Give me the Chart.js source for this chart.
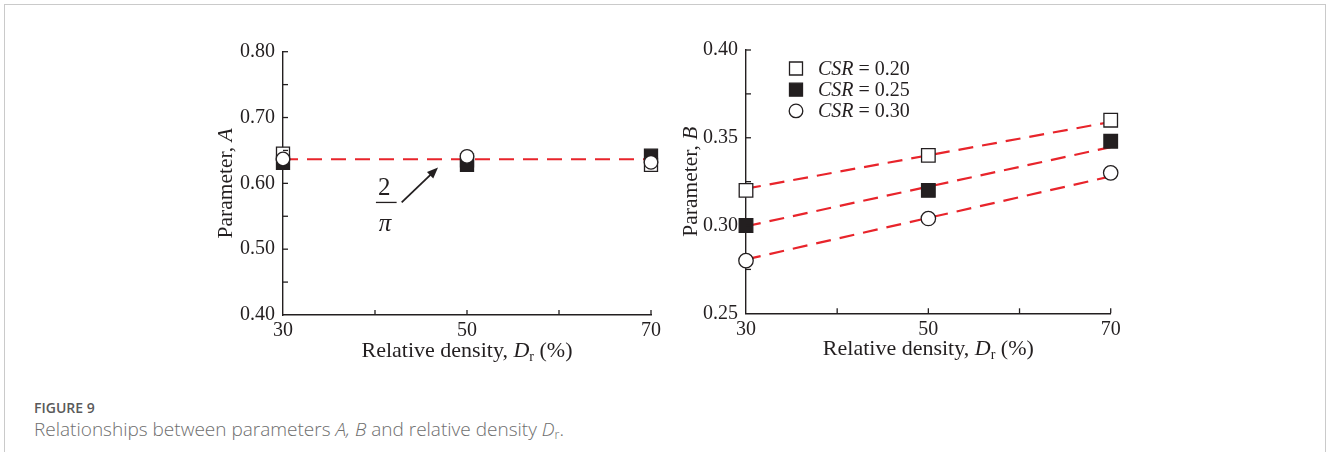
<!DOCTYPE html>
<html>
<head>
<meta charset="utf-8">
<script src="https://cdn.jsdelivr.net/npm/chart.js"></script>
<style>
    body { margin: 0; background: #fff; width: 1328px; height: 452px; overflow: hidden; position: relative; }
    .frame { position: absolute; left: 4px; top: 4px; width: 1322px; height: 460px; border: 1.5px solid #cacaca; border-bottom: none; box-sizing: border-box; }
    .cv { position: absolute; top: 30px; }
    .fig-label { position: absolute; left: 34px; top: 398px; font-family: "Open Sans", sans-serif; font-size: 14px; font-weight: 600; color: #5a5a5a; }
    .caption { position: absolute; left: 34px; top: 416px; font-family: "Open Sans", sans-serif; font-size: 19px; font-weight: 300; color: #6e6e6e; }
    .caption sub { font-size: 12.5px; vertical-align: -3px; line-height: 0; }
</style>
</head>
<body>
<div class="frame"></div>
<canvas id="chartA" class="cv" width="480" height="340" style="left:200px"></canvas>
<canvas id="chartB" class="cv" width="480" height="340" style="left:670px"></canvas>
<div class="fig-label">FIGURE 9</div>
<div class="caption">Relationships between parameters <i>A, B</i> and relative density <i>D</i><sub>r</sub>.</div>

<script>
// relative density (%) for every series
const densities = [30, 50, 70];
const fitX = [30, 70];

// parameter A (left panel)
const aCsr20 = [0.645, 0.635, 0.628];
const aCsr25 = [0.631, 0.628, 0.642];
const aCsr30 = [0.637, 0.641, 0.632];
const aFit = [0.6366, 0.6366];   // 2/pi

// parameter B (right panel)
const bCsr20 = [0.320, 0.340, 0.360];
const bCsr25 = [0.300, 0.320, 0.348];
const bCsr30 = [0.280, 0.304, 0.330];
const bFit20 = [0.321, 0.359];
const bFit25 = [0.2996, 0.3447];
const bFit30 = [0.2807, 0.328];

const legendLabels = ['0.20', '0.25', '0.30'];

const SERIF = '"Liberation Serif", "Times New Roman", serif';
const RED = '#e8242b';
const INK = '#231f20';

function pts(xs, ys) { return xs.map((x, i) => ({ x: x, y: ys[i] })); }

function markerSet(data, style, filled, order, r) {
    return {
        data: data, showLine: false, order: order, clip: false,
        pointStyle: style, pointRadius: r, pointHoverRadius: r,
        pointBackgroundColor: filled ? INK : '#ffffff',
        pointBorderColor: INK, pointBorderWidth: 1.3
    };
}
function fitSet(data) {
    return {
        data: data, showLine: true, order: 10, pointRadius: 0, clip: false,
        borderColor: RED, borderWidth: 2.2, borderDash: [15, 9], fill: false
    };
}

// draws text made of runs with different fonts (italic, subscript)
function drawRuns(ctx, runs, x, y) {
    let total = 0;
    runs.forEach(r => { ctx.font = r.font; total += ctx.measureText(r.text).width; });
    let cx = x - total / 2;
    ctx.textAlign = 'left';
    ctx.textBaseline = 'alphabetic';
    runs.forEach(r => {
        ctx.font = r.font;
        ctx.fillText(r.text, cx, y + (r.dy || 0));
        cx += ctx.measureText(r.text).width;
    });
}

const xTitleRuns = [
    { text: 'Relative density, ', font: '22px ' + SERIF },
    { text: 'D', font: 'italic 22px ' + SERIF },
    { text: 'r', font: '14px ' + SERIF, dy: 4 },
    { text: ' (%)', font: '22px ' + SERIF }
];

const axisDecor = {
    id: 'axisDecor',
    afterDraw(chart, args, opts) {
        const ctx = chart.ctx, a = chart.chartArea;
        const xs = chart.scales.x, ys = chart.scales.y;
        ctx.save();
        ctx.strokeStyle = INK;
        ctx.lineWidth = 1.3;
        // inner tick marks
        xs.ticks.forEach(t => {
            const px = xs.getPixelForValue(t.value);
            if (Math.abs(px - a.left) < 1) return;
            ctx.beginPath(); ctx.moveTo(px, a.bottom); ctx.lineTo(px, a.bottom - 5); ctx.stroke();
        });
        ys.ticks.forEach(t => {
            const py = ys.getPixelForValue(t.value);
            if (Math.abs(py - a.bottom) < 1) return;
            ctx.beginPath(); ctx.moveTo(a.left, py); ctx.lineTo(a.left + 5, py); ctx.stroke();
        });
        ctx.fillStyle = INK;
        // x title
        drawRuns(ctx, xTitleRuns, (a.left + a.right) / 2, a.bottom + 42);
        // y title (rotated)
        ctx.translate(a.left - opts.yTitleOffset, (a.top + a.bottom) / 2);
        ctx.rotate(-Math.PI / 2);
        drawRuns(ctx, [
            { text: 'Parameter, ', font: '21.5px ' + SERIF },
            { text: opts.letter, font: 'italic 21.5px ' + SERIF }
        ], 0, 7);
        ctx.restore();
    }
};

// 2/pi label with arrow, placed in data coordinates
const piNote = { num: [41.0, 0.582], bar: [40.1, 42.35, 0.571], den: [41.1, 0.528], tail: [42.9, 0.571], tip: [46.85, 0.624] };
const piAnnot = {
    id: 'piAnnot',
    afterDraw(chart) {
        const ctx = chart.ctx, xs = chart.scales.x, ys = chart.scales.y;
        const X = v => xs.getPixelForValue(v), Y = v => ys.getPixelForValue(v);
        ctx.save();
        ctx.fillStyle = INK; ctx.strokeStyle = INK;
        ctx.textAlign = 'center'; ctx.textBaseline = 'alphabetic';
        ctx.font = '25px ' + SERIF;
        ctx.fillText('2', X(piNote.num[0]), Y(piNote.num[1]));
        ctx.font = 'italic 25px ' + SERIF;
        ctx.fillText('\u03c0', X(piNote.den[0]), Y(piNote.den[1]));
        ctx.lineWidth = 1.3;
        ctx.beginPath();
        ctx.moveTo(X(piNote.bar[0]), Y(piNote.bar[2])); ctx.lineTo(X(piNote.bar[1]), Y(piNote.bar[2]));
        ctx.stroke();
        const x0 = X(piNote.tail[0]), y0 = Y(piNote.tail[1]), x1 = X(piNote.tip[0]), y1 = Y(piNote.tip[1]);
        const ang = Math.atan2(y1 - y0, x1 - x0);
        ctx.lineWidth = 1.8;
        ctx.beginPath(); ctx.moveTo(x0, y0);
        ctx.lineTo(x1 - 8 * Math.cos(ang), y1 - 8 * Math.sin(ang)); ctx.stroke();
        ctx.beginPath();
        ctx.moveTo(x1, y1);
        ctx.lineTo(x1 - 11 * Math.cos(ang) + 4.5 * Math.sin(ang), y1 - 11 * Math.sin(ang) - 4.5 * Math.cos(ang));
        ctx.lineTo(x1 - 11 * Math.cos(ang) - 4.5 * Math.sin(ang), y1 - 11 * Math.sin(ang) + 4.5 * Math.cos(ang));
        ctx.closePath(); ctx.fill();
        ctx.restore();
    }
};

// legend of the right panel
const csrLegend = {
    id: 'csrLegend',
    afterDraw(chart) {
        const ctx = chart.ctx, a = chart.chartArea;
        const mx = a.left + 50, tx = a.left + 72;
        ctx.save();
        legendLabels.forEach((lab, i) => {
            const y = a.top + 18.5 + i * 21.2;
            ctx.lineWidth = 1.3; ctx.strokeStyle = INK; ctx.fillStyle = INK;
            ctx.beginPath();
            if (i === 2) ctx.arc(mx, y, 6.8, 0, Math.PI * 2);
            else ctx.rect(mx - 6.5, y - 6.5, 13, 13);
            if (i === 1) ctx.fill();
            else { ctx.fillStyle = '#fff'; ctx.fill(); }
            ctx.stroke();
            ctx.fillStyle = INK;
            ctx.textAlign = 'left'; ctx.textBaseline = 'middle';
            ctx.font = 'italic 20px ' + SERIF;
            ctx.fillText('CSR', tx, y + 1);
            const w = ctx.measureText('CSR').width;
            ctx.font = '20px ' + SERIF;
            ctx.fillText(' = ' + lab, tx + w, y + 1);
        });
        ctx.restore();
    }
};

function scalesFor(min, max, step, labelEvery, yWidth, xHeight, xPad) {
    const tickFont = { family: SERIF, size: 20 };
    const k = 1 / labelEvery;
    return {
        x: {
            type: 'linear', min: 30, max: 70,
            grid: { display: false, drawTicks: false },
            border: { display: true, color: INK, width: 1.4 },
            ticks: {
                stepSize: 10, color: INK, font: tickFont, padding: xPad, maxRotation: 0,
                callback: v => (v % 20 === 10 ? String(v) : '')
            },
            afterFit: s => { s.height = xHeight; }
        },
        y: {
            min: min, max: max,
            grid: { display: false, drawTicks: false },
            border: { display: true, color: INK, width: 1.4 },
            ticks: {
                stepSize: step, color: INK, font: tickFont, padding: 8,
                callback: v => (Math.abs(v * k - Math.round(v * k)) < 1e-6 ? v.toFixed(2) : '')
            },
            afterFit: s => { s.width = yWidth; }
        }
    };
}

const common = {
    responsive: false, animation: false, devicePixelRatio: 1,
    plugins: { legend: { display: false }, tooltip: { enabled: false } }
};

new Chart(document.getElementById('chartA'), {
    type: 'scatter',
    data: {
        datasets: [
            fitSet(pts(fitX, aFit)),
            markerSet(pts(densities, aCsr20), 'rect', false, 3, 9.2),
            markerSet(pts(densities, aCsr25), 'rect', true, 2, 9.2),
            markerSet(pts(densities, aCsr30), 'circle', false, 1, 6.8)
        ]
    },
    options: Object.assign({}, common, {
        layout: { padding: { left: 0, top: 21.7, right: 29, bottom: 0 } },
        scales: scalesFor(0.40, 0.80, 0.05, 0.1, 83, 55, 4),
        plugins: Object.assign({}, common.plugins, { axisDecor: { letter: 'A', yTitleOffset: 58 } })
    }),
    plugins: [axisDecor, piAnnot]
});

new Chart(document.getElementById('chartB'), {
    type: 'scatter',
    data: {
        datasets: [
            fitSet(pts(fitX, bFit20)),
            fitSet(pts(fitX, bFit25)),
            fitSet(pts(fitX, bFit30)),
            markerSet(pts(densities, bCsr20), 'rect', false, 3, 9.6),
            markerSet(pts(densities, bCsr25), 'rect', true, 2, 9.6),
            markerSet(pts(densities, bCsr30), 'circle', false, 1, 7.2)
        ]
    },
    options: Object.assign({}, common, {
        layout: { padding: { left: 0, top: 19.3, right: 39.3, bottom: 0 } },
        scales: scalesFor(0.25, 0.40, 0.025, 0.05, 76, 56.7, 4),
        plugins: Object.assign({}, common.plugins, { axisDecor: { letter: 'B', yTitleOffset: 56 } })
    }),
    plugins: [axisDecor, csrLegend]
});
</script>
</body>
</html>
